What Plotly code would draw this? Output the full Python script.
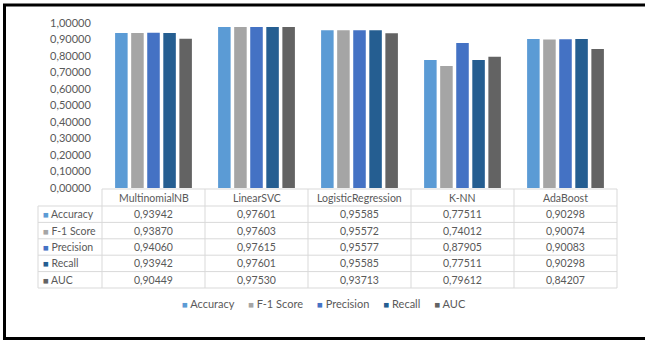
import plotly.graph_objects as go

# ---- data ----
models = ["MultinomialNB", "LinearSVC", "LogisticRegression", "K-NN", "AdaBoost"]
metrics = ["Accuracy", "F-1 Score", "Precision", "Recall", "AUC"]
accuracy = [0.93942, 0.97601, 0.95585, 0.77511, 0.90298]
f1_score = [0.93870, 0.97603, 0.95572, 0.74012, 0.90074]
precision = [0.94060, 0.97615, 0.95577, 0.87905, 0.90083]
recall = [0.93942, 0.97601, 0.95585, 0.77511, 0.90298]
auc = [0.90449, 0.97530, 0.93713, 0.79612, 0.84207]
y_ticks = [i / 10 for i in range(11)]

series = [accuracy, f1_score, precision, recall, auc]
colors = ["#5B9BD5", "#A5A5A5", "#4472C4", "#255E91", "#636363"]

W, H = 645, 342
ML, MR, MT, MB = 102, 28, 23, 154
PW, PH = W - ML - MR, H - MT - MB

def px(x):
    """pixel x -> paper x"""
    return (x - ML) / PW

def py(y):
    """pixel y -> paper y"""
    return (H - MB - y) / PH

TXT = "#595959"
GRID = "#D9D9D9"
FONT = "Lato"
TFS = 10.5  # table font size

fig = go.Figure()
for name, vals, col in zip(metrics, series, colors):
    fig.add_trace(go.Bar(name=name, x=models, y=vals, marker=dict(color=col, line=dict(width=0))))

shapes = []
annotations = []

def square(col, size=9.5):
    return f"<span style='color:{col};font-size:{size}px'>■</span>"

# data table under the plot
n = len(models)
header_top, header_bot = 189, 206
row_h = 16.4
label_left = 38
rows_bottom = header_bot + row_h * len(metrics)

def hline(y, x0, x1):
    shapes.append(dict(type="line", xref="paper", yref="paper", x0=x0, x1=x1,
                       y0=py(y), y1=py(y), line=dict(color=GRID, width=1)))

def vline(x, y0, y1):
    shapes.append(dict(type="line", xref="paper", yref="paper", x0=x, x1=x,
                       y0=py(y0), y1=py(y1), line=dict(color=GRID, width=1)))

hline(header_top, 0, 1)
for r in range(len(metrics) + 1):
    hline(header_bot + r * row_h, px(label_left), 1)
vline(px(label_left), header_bot, rows_bottom)
for k in range(n + 1):
    vline(k / n, header_top, rows_bottom)

def cell(x, xref, y, text, xanchor="center", size=TFS):
    annotations.append(dict(x=x, xref=xref, yref="paper", y=py(y), text=text,
                            xanchor=xanchor, yanchor="middle", showarrow=False,
                            font=dict(size=size, color=TXT, family=FONT)))

# column headers
for m in models:
    cell(m, "x", (header_top + header_bot) / 2, m)

# row labels and cell values
for r, (name, vals, col) in enumerate(zip(metrics, series, colors)):
    yc = header_bot + (r + 0.5) * row_h
    cell(px(label_left + 3), "paper", yc, f"{square(col)} {name}", xanchor="left")
    for m, v in zip(models, vals):
        cell(m, "x", yc, f"{v:.5f}".replace(".", ","))

# legend line
gap = "\u00a0" * 5
legend_txt = gap.join(f"{square(c)} {m}" for m, c in zip(metrics, colors))
cell(px(324), "paper", 303, legend_txt, size=11)

# outer frame
frame = dict(color="black", width=3)
shapes.append(dict(type="line", xref="paper", yref="paper", x0=px(4.5), x1=px(4.5),
                   y0=py(4), y1=py(339), line=frame))
shapes.append(dict(type="line", xref="paper", yref="paper", x0=px(3), x1=px(650),
                   y0=py(5), y1=py(5), line=frame))
shapes.append(dict(type="line", xref="paper", yref="paper", x0=px(3), x1=px(650),
                   y0=py(338.5), y1=py(338.5), line=frame))

fig.update_layout(
    width=W, height=H,
    margin=dict(l=ML, r=MR, t=MT, b=MB),
    paper_bgcolor="white", plot_bgcolor="white",
    barmode="group", bargap=0.22, bargroupgap=0.22,
    showlegend=False,
    separators=", ",
    font=dict(family=FONT, color=TXT),
    shapes=shapes, annotations=annotations,
)
fig.update_xaxes(showticklabels=False, showgrid=False, zeroline=False, showline=False,
                 range=[-0.5, n - 0.5], fixedrange=True)
fig.update_yaxes(range=[0, 1], tickvals=y_ticks, tickformat=".5f", showgrid=False,
                 zeroline=False, showline=False, ticks="outside", ticklen=8,
                 tickcolor="rgba(0,0,0,0)", tickfont=dict(size=11, color=TXT, family=FONT))

fig.write_html("out.html")
